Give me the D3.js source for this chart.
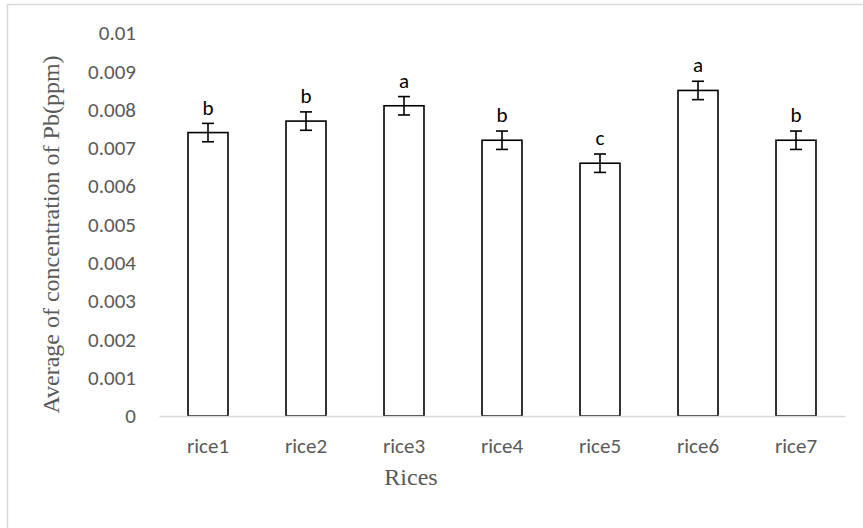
<!DOCTYPE html>
<html>
<head>
<meta charset="utf-8">
<script src="https://cdn.jsdelivr.net/npm/d3@7"></script>
<style>
  html, body { margin: 0; padding: 0; background: #fff; }
  svg { display: block; }
</style>
</head>
<body>
<svg id="chart" width="863" height="528"></svg>
<script>
// Mean Pb concentration per rice sample, with error and group letters
const categories = ["rice1", "rice2", "rice3", "rice4", "rice5", "rice6", "rice7"];
const means = [0.0074, 0.0077, 0.0081, 0.0072, 0.0066, 0.0085, 0.0072];
const errors = [0.00024, 0.00024, 0.00024, 0.00024, 0.00024, 0.00024, 0.00024];
const groups = ["b", "b", "a", "b", "c", "a", "b"];
const yTicks = [0, 0.001, 0.002, 0.003, 0.004, 0.005, 0.006, 0.007, 0.008, 0.009, 0.01];
const yTitle = "Average of concentration of Pb(ppm)";
const xTitle = "Rices";

const sansFont = "Carlito, Lato, 'Open Sans', sans-serif";
const serifFont = "'Liberation Serif', 'Times New Roman', serif";
const textGrey = "#595959";
const axisGrey = "#d9d9d9";

const svg = d3.select("#chart");

// outer chart frame
svg.append("rect")
  .attr("x", 7.5).attr("y", 4.5)
  .attr("width", 880).attr("height", 560)
  .attr("fill", "none")
  .attr("stroke", axisGrey)
  .attr("stroke-width", 1.5);

const x = d3.scaleBand()
  .domain(categories)
  .range([159, 845])
  .paddingInner(0.592)
  .paddingOuter(0.296);

const y = d3.scaleLinear()
  .domain([0, 0.01])
  .range([416, 33]);

// y axis labels (no axis line, no tick marks)
const yAxis = d3.axisLeft(y)
  .tickValues(yTicks)
  .tickFormat(d => d === 0 ? "0" : d3.format("")(+d.toFixed(3)))
  .tickSize(0)
  .tickPadding(0);

const yG = svg.append("g")
  .attr("transform", "translate(136,0)")
  .call(yAxis);
yG.select(".domain").remove();
yG.selectAll("text")
  .attr("fill", textGrey)
  .style("font-family", sansFont)
  .style("font-size", "21px");

// bars
const data = categories.map((c, i) => ({ c, v: means[i], e: errors[i], g: groups[i] }));

svg.append("g").selectAll("rect")
  .data(data)
  .join("rect")
  .attr("x", d => x(d.c))
  .attr("y", d => y(d.v))
  .attr("width", x.bandwidth())
  .attr("height", d => y(0) - y(d.v))
  .attr("fill", "#fff")
  .attr("stroke", "#000")
  .attr("stroke-width", 1.6);

// x axis line and category labels
const xAxis = d3.axisBottom(x).tickSize(0).tickPadding(0);
const xG = svg.append("g")
  .attr("transform", `translate(0,${y(0)})`)
  .call(xAxis);
xG.select(".domain")
  .attr("stroke", axisGrey)
  .attr("stroke-width", 1.6);
xG.selectAll("text")
  .attr("dy", null)
  .attr("y", 37)
  .attr("fill", textGrey)
  .style("font-family", sansFont)
  .style("font-size", "21px");

// error bars
const errG = svg.append("g")
  .attr("stroke", "#000")
  .attr("stroke-width", 1.6);
data.forEach(d => {
  const cx = x(d.c) + x.bandwidth() / 2;
  const y1 = y(d.v + d.e), y2 = y(d.v - d.e);
  errG.append("line").attr("x1", cx).attr("x2", cx).attr("y1", y1).attr("y2", y2);
  errG.append("line").attr("x1", cx - 6).attr("x2", cx + 6).attr("y1", y1).attr("y2", y1);
  errG.append("line").attr("x1", cx - 6).attr("x2", cx + 6).attr("y1", y2).attr("y2", y2);
});

// group letters above bars
svg.append("g").selectAll("text")
  .data(data)
  .join("text")
  .attr("x", d => x(d.c) + x.bandwidth() / 2)
  .attr("y", d => y(d.v) - 18)
  .attr("text-anchor", "middle")
  .attr("fill", "#000")
  .style("font-family", sansFont)
  .style("font-size", "21px")
  .text(d => d.g);

// axis titles
svg.append("text")
  .attr("transform", "translate(51,234.5) rotate(-90)")
  .attr("text-anchor", "middle")
  .attr("dy", "0.35em")
  .attr("fill", textGrey)
  .style("font-family", serifFont)
  .style("font-size", "24px")
  .text(yTitle);

svg.append("text")
  .attr("x", 411)
  .attr("y", 485)
  .attr("text-anchor", "middle")
  .attr("fill", textGrey)
  .style("font-family", serifFont)
  .style("font-size", "24px")
  .text(xTitle);
</script>
</body>
</html>
